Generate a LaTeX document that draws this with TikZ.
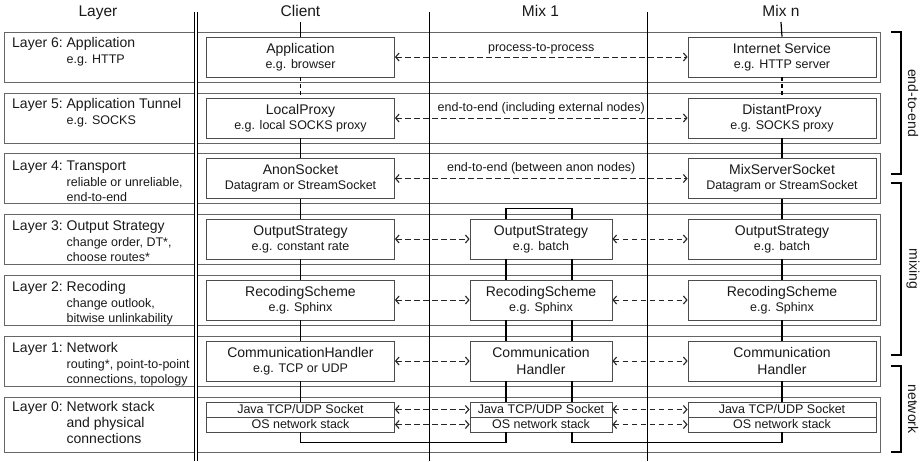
\documentclass[tikz,border=0pt]{standalone}
\usepackage{fontspec}
\setmainfont{Liberation Sans}
\usetikzlibrary{arrows.meta}
\newcommand\mainsz{\fontsize{14}{17}\selectfont}
\newcommand\subsz{\fontsize{12.5}{17}\selectfont}
\newcommand\headsz{\fontsize{15.5}{18}\selectfont}
\newcommand\lefttext[3]{\begin{tabular}[t]{@{}l@{}l@{}}#1\ \null & #2\\#3\end{tabular}}
\begin{document}
\begin{tikzpicture}[x=1pt,y=-1pt,
  band/.style={draw=black!60, line width=0.8pt},
  box/.style={draw=black!70, line width=0.8pt, fill=white, inner sep=0pt, align=center,
    font=\mainsz, minimum height=40pt, text=black!90},
  wbox/.style={box, minimum width=188pt},
  nbox/.style={box, minimum width=142pt},
  lowtxt/.style={execute at begin node={\rule{0pt}{13.2pt}}},
  thinbox/.style={minimum height=15pt, font=\fontsize{12.5}{14}\selectfont},
  conn/.style={line width=1.2pt, black},
  vdash/.style={conn, dash pattern=on 4pt off 3pt},
  link/.style={line width=0.9pt, black!85, dash pattern=on 5.5pt off 3.5pt,
    {Straight Barb[length=3.5pt,width=8pt,line width=1.1pt]}-{Straight Barb[length=3.5pt,width=8pt,line width=1.1pt]}},
  lab/.style={font=\subsz, inner sep=0pt, text=black!90},
  head/.style={font=\headsz, inner sep=0pt, anchor=base, text=black!90},
  ltext/.style={font=\fontsize{14}{16}\selectfont, inner sep=0pt, anchor=base west, text=black!90},
  brk/.style={line width=1.2pt, black},
  side/.style={font=\mainsz, rotate=-90, inner sep=0pt, text=black!90},
  colline/.style={line width=0.7pt, black}
]
\useasboundingbox (0,0) rectangle (924,461);

% row bands
\foreach \t/\h in {32/50, 93/50, 153.5/50, 214/50, 275/50, 336/50, 397/55} {
  \draw[band] (4,\t) rectangle (194,\t+\h);
  \draw[band] (197,\t) rectangle (880,\t+\h);
}

% column separators
\draw[colline] (194.5,12) -- (194.5,461);
\draw[colline] (197.5,12) -- (197.5,461);
\draw[colline] (429,12) -- (429,461);
\draw[colline] (647,12) -- (647,461);

% headers
\node[head] (hL) at (98,16.5) {Layer};
\node[head] (hC) at (300.5,16.5) {Client};
\node[head] (hM) at (540.5,16.5) {Mix 1};
\node[head] (hN) at (781,16.5) {Mix n};

% left column texts
\node[ltext] (l6) at (12,47.5) {\lefttext{Layer 6:}{Application}{& {\subsz e.g. HTTP}}};
\node[ltext] (l5) at (12,108) {\lefttext{Layer 5:}{Application Tunnel}{& {\subsz e.g. SOCKS}}};
\node[ltext] (l4) at (12,170.5) {\lefttext{Layer 4:}{Transport}{& {\subsz reliable or unreliable,}\\[-1pt] & {\subsz end-to-end}}};
\node[ltext] (l3) at (12,230.5) {\lefttext{Layer 3:}{Output Strategy}{& {\subsz change order, DT*,}\\[-1pt] & {\subsz choose routes*}}};
\node[ltext] (l2) at (12,291.5) {\lefttext{Layer 2:}{Recoding}{& {\subsz change outlook,}\\[-1pt] & {\subsz bitwise unlinkability}}};
\node[ltext] (l1) at (12,352.5) {\lefttext{Layer 1:}{Network}{& {\subsz routing*, point-to-point}\\[-1pt] & {\subsz connections, topology}}};
\node[ltext] (l0) at (12,411.5) {\lefttext{Layer 0:}{Network stack}{& and physical\\ & connections}};

% client nodes
\node[wbox, lowtxt] (c6) at (300.5,57) {Application\\[-2pt]{\subsz e.g. browser}};
\node[wbox, lowtxt] (c5) at (300.5,118) {LocalProxy\\[-2pt]{\subsz e.g. local SOCKS proxy}};
\node[wbox, lowtxt] (c4) at (300.5,178.5) {AnonSocket\\[-2pt]{\subsz Datagram or StreamSocket}};
\node[wbox, lowtxt] (c3) at (300.5,239) {OutputStrategy\\[-2pt]{\subsz e.g. constant rate}};
\node[wbox, lowtxt] (c2) at (300.5,300) {RecodingScheme\\[-2pt]{\subsz e.g. Sphinx}};
\node[wbox, lowtxt] (c1) at (300.5,361) {CommunicationHandler\\[-2pt]{\subsz e.g. TCP or UDP}};
\node[wbox, thinbox] (c0a) at (300.5,409.5) {Java TCP/UDP Socket};
\node[wbox, thinbox] (c0b) at (300.5,424.5) {OS network stack};

% mix 1 nodes
\node[nbox, lowtxt] (m3) at (541,239) {OutputStrategy\\[-2pt]{\subsz e.g. batch}};
\node[nbox, lowtxt] (m2) at (541,300) {RecodingScheme\\[-2pt]{\subsz e.g. Sphinx}};
\node[nbox] (m1) at (541,361) {Communication\\Handler};
\node[nbox, thinbox] (m0a) at (541,409.5) {Java TCP/UDP Socket};
\node[nbox, thinbox] (m0b) at (541,424.5) {OS network stack};

% mix n nodes
\node[wbox, lowtxt] (n6) at (782,57) {Internet Service\\[-2pt]{\subsz e.g. HTTP server}};
\node[wbox, lowtxt] (n5) at (782,118) {DistantProxy\\[-2pt]{\subsz e.g. SOCKS proxy}};
\node[wbox, lowtxt] (n4) at (782,178.5) {MixServerSocket\\[-2pt]{\subsz Datagram or StreamSocket}};
\node[wbox, lowtxt] (n3) at (782,239) {OutputStrategy\\[-2pt]{\subsz e.g. batch}};
\node[wbox, lowtxt] (n2) at (782,300) {RecodingScheme\\[-2pt]{\subsz e.g. Sphinx}};
\node[wbox] (n1) at (782,361) {Communication\\Handler};
\node[wbox, thinbox] (n0a) at (782,409.5) {Java TCP/UDP Socket};
\node[wbox, thinbox] (n0b) at (782,424.5) {OS network stack};

% vertical stacks
\draw[conn] ([yshift=-5.5pt]hC.base) -- (c6.north);
\draw[vdash] (c6.south) -- (c5.north);
\draw[conn] (c5.south) -- (c4.north);
\draw[conn] (c4.south) -- (c3.north);
\draw[conn] (c3.south) -- (c2.north);
\draw[conn] (c2.south) -- (c1.north);
\draw[conn] (c1.south) -- (c0a.north);

\draw[conn] ([yshift=-5.5pt]hN.base) -- (n6.north);
\draw[vdash] (n6.south) -- (n5.north);
\draw[conn] (n5.south) -- (n4.north);
\draw[conn] (n4.south) -- (n3.north);
\draw[conn] (n3.south) -- (n2.north);
\draw[conn] (n2.south) -- (n1.north);
\draw[conn] (n1.south) -- (n0a.north);

\draw[conn] ([xshift=-35pt]m3.north) -- ++(0,-10) -| ([xshift=31pt]m3.north);
\foreach \s in {-35,31} {
  \draw[conn] ([xshift=\s pt]m3.south) -- ([xshift=\s pt]m2.north);
  \draw[conn] ([xshift=\s pt]m2.south) -- ([xshift=\s pt]m1.north);
  \draw[conn] ([xshift=\s pt]m1.south) -- ([xshift=\s pt]m0a.north);
}
\draw[conn] (c0b.south) -- ++(0,10) -| ([xshift=-35pt]m0b.south);
\draw[conn] ([xshift=31pt]m0b.south) -- ++(0,10) -| (n0b.south);

% horizontal links
\draw[link] (c6.east) -- (n6.west) node[lab, midway, yshift=8.5pt] (t6) {process-to-process};
\draw[link] (c5.east) -- (n5.west) node[lab, midway, yshift=9.5pt] (t5) {end-to-end (including external nodes)};
\draw[link] (c4.east) -- (n4.west) node[lab, midway, yshift=10pt] (t4) {end-to-end (between anon nodes)};
\draw[link] (c3.east) -- (m3.west);
\draw[link] (m3.east) -- (n3.west);
\draw[link] (c2.east) -- (m2.west);
\draw[link] (m2.east) -- (n2.west);
\draw[link] (c1.east) -- (m1.west);
\draw[link] (m1.east) -- (n1.west);
\draw[link] (c0a.east) -- (m0a.west);
\draw[link] (m0a.east) -- (n0a.west);
\draw[link] (c0b.east) -- (m0b.west);
\draw[link] (m0b.east) -- (n0b.west);

% side brackets
\draw[brk] (891,32) -- (901,32) -- (901,174) -- (891,174);
\draw[brk] (891,183) -- (901,183) -- (901,355) -- (891,355);
\draw[brk] (891,366) -- (901,366) -- (901,452) -- (891,452);
\node[side] (sE) at (913,103) {end-to-end};
\node[side] (sM) at (913,269) {mixing};
\node[side] (sN) at (913,409) {network};
\end{tikzpicture}
\end{document}
